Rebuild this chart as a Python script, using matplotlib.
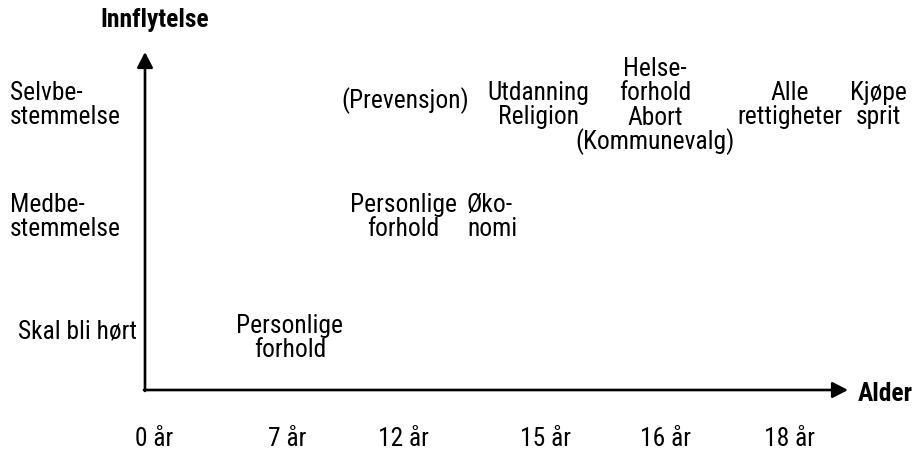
import matplotlib
matplotlib.use('Agg')
import matplotlib.pyplot as plt
from matplotlib import font_manager

installed = {f.name for f in font_manager.fontManager.ttflist}
for fam in ['Liberation Sans Narrow', 'Arial Narrow', 'Arimo Narrow', 'Roboto Condensed',
            'PT Sans Narrow', 'Archivo Narrow', 'Liberation Sans']:
    if fam in installed:
        break
plt.rcParams['font.family'] = [fam, 'DejaVu Sans']

ages = ['0 år', '7 år', '12 år', '15 år', '16 år', '18 år']
levels = ['Skal bli hørt', 'Medbe-\nstemmelse', 'Selvbe-\nstemmelse']
items = ['Personlige\nforhold', 'Personlige\nforhold', 'Øko-\nnomi', '(Prevensjon)',
         'Utdanning\nReligion', 'Helse-\nforhold\nAbort\n(Kommunevalg)',
         'Alle\nrettigheter', 'Kjøpe\nsprit']
item_level = [0, 1, 1, 2, 2, 2, 2, 2]

# layout (pixel coordinates, y downwards); y = baseline of first line
age_x = [154, 287, 403, 545, 665, 790]
level_pos = [(18, 338), (10, 212), (10, 100)]
item_x = [290, 403, 467, 405, 538, 655, 790, 878]
item_y = [333, 212, 212, 108, 100, 76, 100, 100]
item_ha = ['center', 'center', 'left', 'center', 'center', 'center', 'center', 'center']
origin = (145, 390)
fs = 18.4
step = 24.3

fig = plt.figure(figsize=(9.18, 4.5), dpi=100)
ax = fig.add_axes([0, 0, 1, 1])
ax.set_xlim(0, 918)
ax.set_ylim(450, 0)
ax.axis('off')


def block(x, y, s, ha='center', **kw):
    for i, line in enumerate(s.split('\n')):
        ax.text(x, y + i * step, line, ha=ha, va='baseline', fontsize=fs, **kw)


arrow = dict(arrowstyle='-|>,head_length=0.93,head_width=0.48', color='black', lw=1.9,
             shrinkA=0, shrinkB=0)
ax.annotate('', xy=(origin[0], 52), xytext=(origin[0], origin[1] + 1), arrowprops=arrow)
ax.annotate('', xy=(848, origin[1]), xytext=(origin[0] - 1, origin[1]), arrowprops=arrow)

block(155, 27, 'Innflytelse', fontweight='bold')
block(858, 401, 'Alder', ha='left', fontweight='bold')

for lab, x in zip(ages, age_x):
    block(x, 446, lab)

for lab, (x, y) in zip(levels, level_pos):
    block(x, y, lab, ha='left')

for txt, x, y, ha in zip(items, item_x, item_y, item_ha):
    block(x, y, txt, ha=ha)

fig.savefig('out.png', dpi=100)
